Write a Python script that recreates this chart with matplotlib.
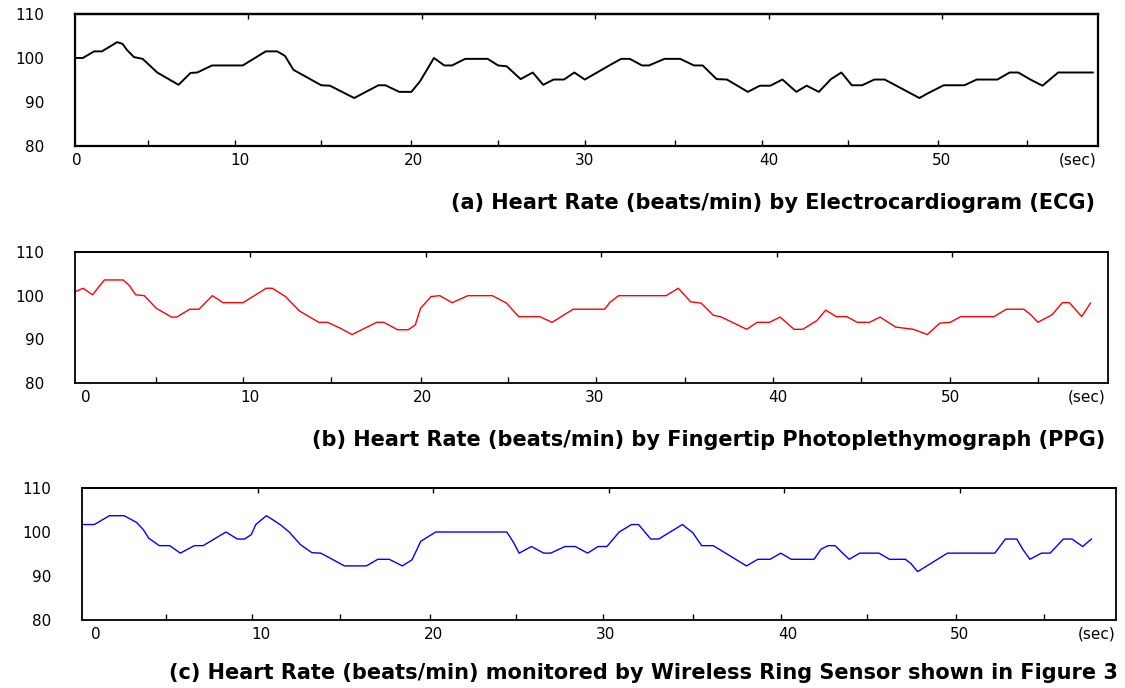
import matplotlib
matplotlib.use("Agg")
import matplotlib.pyplot as plt

# the scan's Arial is stretched sideways; DejaVu's wider glyphs come closer
plt.rcParams['font.family'] = ['DejaVu Sans']

# (a) heart rate from ECG, breakpoints
ecg_t = [0, 0.45, 1.1, 1.55, 2.43, 2.74, 3.0, 3.4, 3.9, 4.74, 5.97, 6.66, 7.05, 7.9,
         9.67, 11.0, 11.66, 12.1, 12.6, 14.2, 14.7, 16.1, 17.5, 17.9, 18.7, 19.4,
         19.9, 20.7, 21.3, 21.74, 22.5, 23.8, 24.4, 24.9, 25.7, 26.4, 27.0, 27.6,
         28.2, 28.8, 29.4, 30.9, 31.5, 32.0, 32.7, 33.1, 34.0, 34.9, 35.7, 36.2,
         37.0, 37.6, 38.8, 39.5, 40.1, 40.8, 41.6, 42.2, 42.9, 43.6, 44.2, 44.8,
         45.4, 46.1, 46.7, 48.7, 49.2, 50.1, 51.3, 52.0, 53.2, 53.9, 54.4, 55.1,
         55.8, 56.7, 58.7]
ecg_hr = [100, 100, 101.5, 101.5, 103.6, 103.2, 101.8, 100.2, 99.8, 96.7, 93.9, 96.6,
          96.7, 98.3, 98.3, 101.5, 101.5, 100.5, 97.3, 93.8, 93.7, 90.9, 93.8, 93.8,
          92.3, 92.3, 94.7, 100, 98.3, 98.3, 99.8, 99.8, 98.3, 98.1, 95.2, 96.7,
          93.9, 95.1, 95.1, 96.7, 95.1, 98.5, 99.8, 99.8, 98.3, 98.3, 99.8, 99.8,
          98.3, 98.3, 95.2, 95.1, 92.3, 93.7, 93.7, 95.1, 92.3, 93.7, 92.3, 95.2,
          96.7, 93.8, 93.8, 95.1, 95.1, 90.9, 92.0, 93.8, 93.8, 95.1, 95.1, 96.7,
          96.7, 95.1, 93.7, 96.7, 96.7]

# (b) heart rate from fingertip PPG
ppg_t = [0, 0.46, 1.0, 1.67, 2.74, 3.1, 3.46, 3.95, 4.64, 5.5, 5.8, 6.54, 7.07, 7.83,
         8.44, 9.58, 10.9, 11.25, 12.0, 12.8, 13.9, 14.4, 15.1, 15.8, 17.2, 17.6,
         18.4, 19.0, 19.4, 19.7, 20.3, 20.8, 21.5, 22.4, 23.8, 24.6, 25.3, 26.5,
         27.2, 28.4, 30.2, 30.5, 31.0, 33.7, 34.4, 35.1, 35.7, 36.4, 36.8, 38.3,
         38.9, 39.6, 40.2, 41.0, 41.5, 42.3, 42.8, 43.4, 44.0, 44.6, 45.3, 45.9,
         46.8, 47.8, 48.6, 49.3, 49.9, 50.5, 52.4, 53.1, 54.1, 54.5, 54.9, 55.7,
         56.3, 56.7, 57.4, 57.9]
ppg_hr = [100.9, 101.7, 100.2, 103.6, 103.6, 102.3, 100.2, 100, 97.1, 95.1, 95.1,
          96.9, 96.9, 100, 98.4, 98.4, 101.7, 101.7, 99.8, 96.5, 93.9, 93.9, 92.6,
          91.1, 93.9, 93.9, 92.2, 92.2, 93.3, 97.1, 99.8, 100, 98.4, 100, 100, 98.3,
          95.2, 95.2, 93.9, 96.9, 96.9, 98.5, 100, 100, 101.7, 98.6, 98.3, 95.5,
          95.2, 92.3, 93.9, 93.9, 95.1, 92.3, 92.3, 94.3, 96.7, 95.2, 95.2, 93.9,
          93.9, 95.1, 92.8, 92.3, 91.1, 93.7, 93.9, 95.2, 95.2, 96.9, 96.9, 95.6,
          93.9, 95.6, 98.4, 98.4, 95.2, 98.3]

# (c) heart rate from the wireless ring sensor
ring_t = [0.05, 0.7, 1.56, 2.4, 3.1, 3.5, 3.8, 4.4, 5.0, 5.6, 6.4, 6.9, 8.2, 8.85,
          9.26, 9.64, 9.9, 10.5, 10.9, 11.35, 11.8, 12.45, 13.1, 13.6, 14.3, 14.95,
          16.2, 16.85, 17.5, 18.25, 18.8, 19.3, 20.15, 24.2, 24.6, 24.9, 25.6, 26.3,
          26.7, 27.5, 28.1, 28.8, 29.4, 29.9, 30.6, 31.3, 31.7, 32.4, 32.85, 34.2,
          34.8, 35.3, 35.96, 37.85, 38.5, 39.2, 39.8, 40.4, 41.7, 42.1, 42.5, 42.9,
          43.3, 43.7, 44.3, 45.4, 46.0, 46.9, 47.2, 47.6, 49.3, 52.0, 52.6, 53.25,
          53.6, 54.0, 54.65, 55.15, 55.9, 56.4, 57.0, 57.5]
ring_hr = [101.7, 101.7, 103.7, 103.7, 102.2, 100.5, 98.6, 96.9, 96.9, 95.2, 96.9,
           96.9, 100, 98.4, 98.4, 99.4, 101.7, 103.7, 102.7, 101.5, 100, 97.1, 95.3,
           95.2, 93.7, 92.3, 92.3, 93.8, 93.8, 92.3, 93.7, 97.9, 100, 100, 97.5,
           95.2, 96.7, 95.2, 95.2, 96.7, 96.7, 95.2, 96.7, 96.7, 100, 101.7, 101.7,
           98.4, 98.4, 101.7, 99.8, 96.9, 96.9, 92.3, 93.8, 93.8, 95.2, 93.8, 93.8,
           96.1, 96.9, 96.9, 95.3, 93.8, 95.2, 95.2, 93.8, 93.8, 92.9, 91.0, 95.2,
           95.2, 98.4, 98.4, 96.0, 93.8, 95.2, 95.2, 98.4, 98.4, 96.7, 98.4]

y_ticks = [80, 90, 100, 110]
top_ticks = [10, 20, 30, 40, 50]
x_labels = ['0', '10', '20', '30', '40', '50', '(sec)']
# the scanned figure has its bottom tick marks and labels slightly off the grid
ecg_label_pos = [0.1, 9.5, 19.5, 29.4, 40.0, 50.0, 57.8]
ppg_label_pos = [0.6, 10.0, 19.8, 29.6, 40.1, 49.9, 57.7]
ring_label_pos = [0.8, 10.2, 20.0, 29.8, 40.2, 50.0, 57.8]
ecg_bottom_ticks = [4.2, 9.2, 14.2, 19.4, 24.4, 29.4, 34.6, 39.6, 44.6, 49.8, 54.9]
ppg_bottom_ticks = [4.6, 9.6, 14.6, 19.7, 24.7, 29.7, 34.8, 39.8, 44.8, 49.9, 54.9]
ring_bottom_ticks = [4.8, 9.7, 14.7, 19.8, 24.7, 29.7, 34.8, 39.8, 44.7, 49.8, 54.8]

titles = ['(a) Heart Rate (beats/min) by Electrocardiogram (ECG)',
          '(b) Heart Rate (beats/min) by Fingertip Photoplethymograph (PPG)',
          '(c) Heart Rate (beats/min) monitored by Wireless Ring Sensor shown in Figure 3']


def style_axis(ax, xmax, bottom_ticks, label_pos, spine_lw):
    ax.set_xlim(0, xmax)
    ax.set_ylim(80, 110)
    for sp in ax.spines.values():
        sp.set_linewidth(spine_lw)
        sp.set_color('black')
    # y labels far left of the spine, short inward marks at 90 and 100 on both sides
    ax.set_yticks(y_ticks)
    ax.tick_params(axis='y', which='major', length=0, pad=22, labelsize=11)
    ax.set_yticks([90, 100], minor=True)
    ax.tick_params(axis='y', which='minor', direction='in', length=7, width=1.2,
                   left=True, right=True)
    # bottom tick marks without labels, labels placed as zero-length minor ticks
    ax.xaxis.remove_overlapping_locs = False
    ax.set_xticks(bottom_ticks, labels=[''] * len(bottom_ticks))
    ax.tick_params(axis='x', which='major', direction='in', length=4.5, width=1.0,
                   bottom=True, top=False)
    ax.set_xticks(label_pos, labels=x_labels, minor=True)
    ax.tick_params(axis='x', which='minor', length=0, pad=5, labelsize=11)
    top = ax.secondary_xaxis('top')
    top.set_xticks(top_ticks, labels=[''] * len(top_ticks))
    top.tick_params(direction='in', length=3.5, width=1.0)
    top.spines['top'].set_linewidth(spine_lw)


fig = plt.figure(figsize=(11.25, 6.88), dpi=100)

ax1 = fig.add_axes([0.0667, 0.7878, 0.9093, 0.1919])
ax1.plot(ecg_t, ecg_hr, color='black', linewidth=1.4)
style_axis(ax1, 59.0, ecg_bottom_ticks, ecg_label_pos, 1.6)

ax2 = fig.add_axes([0.0667, 0.4433, 0.9182, 0.1904])
ax2.plot(ppg_t, ppg_hr, color='#ff0000', linewidth=1.0)
style_axis(ax2, 58.9, ppg_bottom_ticks, ppg_label_pos, 1.3)

ax3 = fig.add_axes([0.0729, 0.0988, 0.9191, 0.1919])
ax3.plot(ring_t, ring_hr, color='#0000ff', linewidth=1.0)
style_axis(ax3, 58.9, ring_bottom_ticks, ring_label_pos, 1.3)

fig.text(1095 / 1125, 1 - 203 / 688, titles[0], ha='right', va='center',
         fontsize=15, fontweight='bold')
fig.text(1105 / 1125, 1 - 440 / 688, titles[1], ha='right', va='center',
         fontsize=15, fontweight='bold')
fig.text(1118 / 1125, 1 - 673 / 688, titles[2], ha='right', va='center',
         fontsize=15, fontweight='bold')

fig.savefig('out.png', dpi=100)
